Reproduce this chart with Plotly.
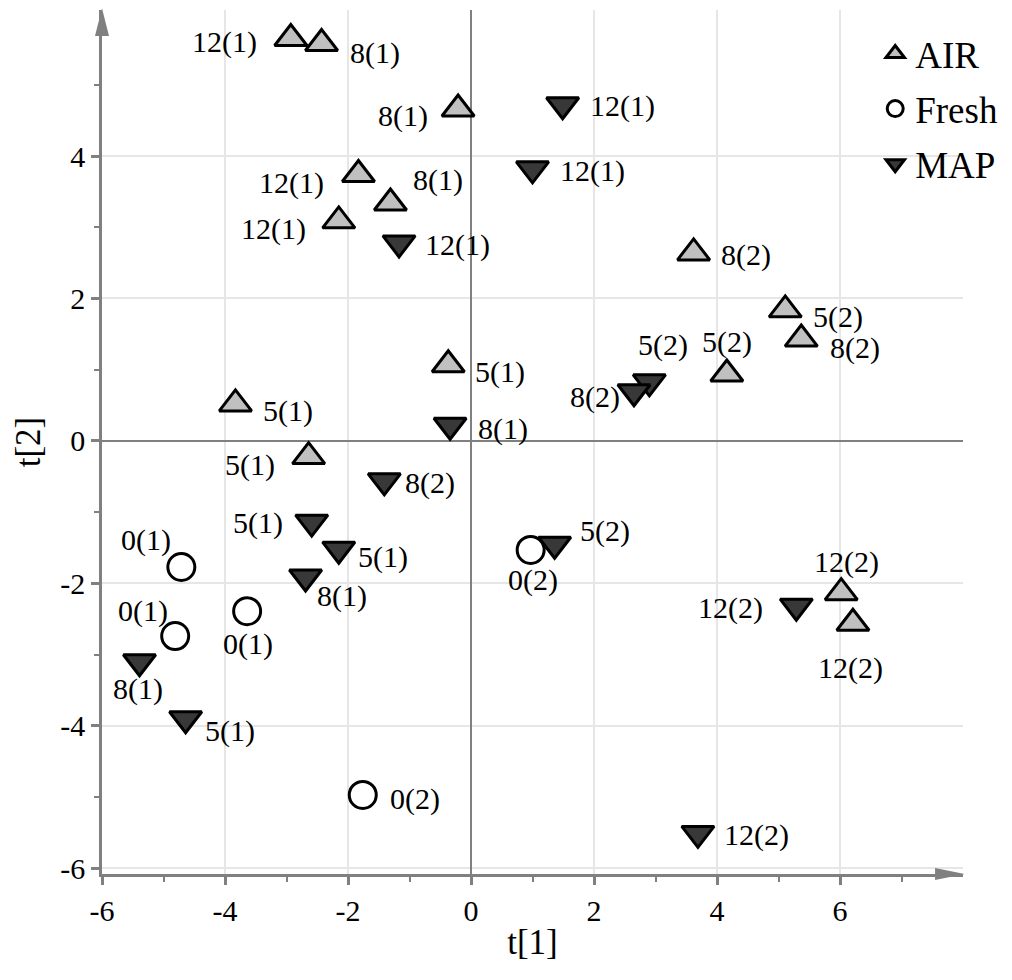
import plotly.graph_objects as go

# ---------------- data ----------------
air_t1 = [-2.93, -2.43, -0.21, -1.83, -1.31, -2.15, 3.62, 5.11, 5.37, 4.16, -0.37, -3.83, -2.64, 6.02, 6.21]
air_t2 = [5.65, 5.58, 4.66, 3.74, 3.34, 3.09, 2.64, 1.84, 1.43, 0.94, 1.07, 0.52, -0.22, -2.13, -2.56]
air_lab = ["12(1)", "8(1)", "8(1)", "12(1)", "8(1)", "12(1)", "8(2)", "5(2)", "8(2)", "5(2)",
           "5(1)", "5(1)", "5(1)", "12(2)", "12(2)"]

fresh_t1 = [-4.71, -3.64, -4.81, 0.97, -1.76]
fresh_t2 = [-1.77, -2.39, -2.74, -1.53, -4.97]
fresh_lab = ["0(1)", "0(1)", "0(1)", "0(2)", "0(2)"]

map_t1 = [1.49, 1.00, -1.17, 2.90, 2.65, -0.34, -1.41, -2.59, -2.15, -2.69, 1.36, 5.29, -5.39, -4.64, 3.69]
map_t2 = [4.72, 3.82, 2.78, 0.83, 0.69, 0.22, -0.56, -1.14, -1.52, -1.91, -1.45, -2.32, -3.10, -3.90, -5.51]
map_lab = ["12(1)", "12(1)", "12(1)", "5(2)", "8(2)", "8(1)", "8(2)", "5(1)", "5(1)", "8(1)",
           "5(2)", "12(2)", "8(1)", "5(1)", "12(2)"]

x_ticks = [-6, -4, -2, 0, 2, 4, 6]
y_ticks = [-6, -4, -2, 0, 2, 4]

# ---------------- label placement (style: anchor, dx px, dy px down) ----------------
air_pos = [("right", -32, 4), ("left", 26, 10), ("right", -28, 7), ("right", -32, 8), ("left", 21, -23),
           ("right", -31, 8), ("left", 25, 2), ("left", 26, 7), ("left", 27, 9), ("center", 0, -32),
           ("left", 25, 7), ("left", 26, 7), ("right", -32, 8), ("center", 5, -31), ("center", -2, 45)]
fresh_pos = [("right", -8, -27), ("center", 1, 33), ("right", -5, -25), ("center", 2, 30), ("left", 25, 4)]
map_pos = [("left", 25, 1), ("left", 25, 2), ("left", 24, 2), ("center", 14, -37), ("right", -12, 5),
           ("left", 26, 4), ("left", 19, 2), ("right", -27, 1), ("left", 17, 8), ("left", 9, 19),
           ("left", 23, -13), ("right", -31, 2), ("center", -2, 27), ("left", 17, 12), ("left", 24, 2)]

FONT = "Liberation Serif"
AXIS_GRAY = "#808080"

fig = go.Figure()

series = [
    ("AIR", air_t1, air_t2, air_lab, air_pos, "triangle-up", "#c0c0c0", 28),
    ("Fresh", fresh_t1, fresh_t2, fresh_lab, fresh_pos, "circle", "white", 27),
    ("MAP", map_t1, map_t2, map_lab, map_pos, "triangle-down", "#383838", 28),
]

annotations = []
for name, xs, ys, labs, pos, sym, fill, size in series:
    fig.add_trace(go.Scatter(
        x=xs, y=ys, mode="markers", name=name, legendgroup=name,
        marker=dict(symbol=sym, size=size, color=fill, line=dict(color="black", width=3)),
        cliponaxis=False,
    ))
    for xv, yv, lab, (anc, dx, dy) in zip(xs, ys, labs, pos):
        annotations.append(dict(
            x=xv, y=yv, xref="x", yref="y", text=lab, showarrow=False,
            xanchor=anc, yanchor="middle", xshift=dx, yshift=-dy,
            font=dict(family=FONT, size=30, color="black"),
        ))

# axis arrow heads (decoration, paper coordinates)
plot_w, plot_h = 862, 864
shapes = [
    dict(type="path", xref="paper", yref="paper",
         path=f"M 0,1.002 L {-7/plot_w},{1-26/plot_h} L {7/plot_w},{1-26/plot_h} Z",
         fillcolor=AXIS_GRAY, line=dict(width=0), layer="above"),
    dict(type="path", xref="paper", yref="paper",
         path=f"M 1.002,0 L {1-28/plot_w},{6/plot_h} L {1-28/plot_w},{-6/plot_h} Z",
         fillcolor=AXIS_GRAY, line=dict(width=0), layer="above"),
]

fig.update_layout(
    width=1012, height=980,
    margin=dict(l=102, r=48, t=10, b=106),
    plot_bgcolor="white", paper_bgcolor="white",
    font=dict(family=FONT, color="black", size=30),
    legend=dict(x=0.897, y=0.985, xanchor="left", yanchor="top", bgcolor="rgba(0,0,0,0)",
                font=dict(family=FONT, size=37, color="black"), tracegroupgap=4,
                itemsizing="trace"),
    showlegend=True,
    annotations=annotations,
    shapes=shapes,
)

for upd, rng, tv, minor_vals, title, standoff in [
    (fig.update_xaxes, [-6, 8], x_ticks, [-5, -3, -1, 1, 3, 5, 7], "t[1]", 4),
    (fig.update_yaxes, [-6.08, 6.05], y_ticks, [-5, -3, -1, 1, 3, 5], "t[2]", 10),
]:
    upd(
        range=rng, tickmode="array", tickvals=tv, ticktext=[str(v) for v in tv],
        showline=True, linecolor=AXIS_GRAY, linewidth=2.5,
        ticks="outside", ticklen=8, tickwidth=2.5, tickcolor=AXIS_GRAY,
        showgrid=True, gridcolor="#e6e6e6", gridwidth=1.5,
        zeroline=True, zerolinecolor=AXIS_GRAY, zerolinewidth=2,
        tickfont=dict(family=FONT, size=30, color="black"),
        minor=dict(tickvals=minor_vals, ticks="outside", ticklen=5,
                   tickwidth=2, tickcolor=AXIS_GRAY, showgrid=False),
        title=dict(text=title, font=dict(family=FONT, size=35, color="black"), standoff=standoff),
    )

fig.write_html("out.html")
